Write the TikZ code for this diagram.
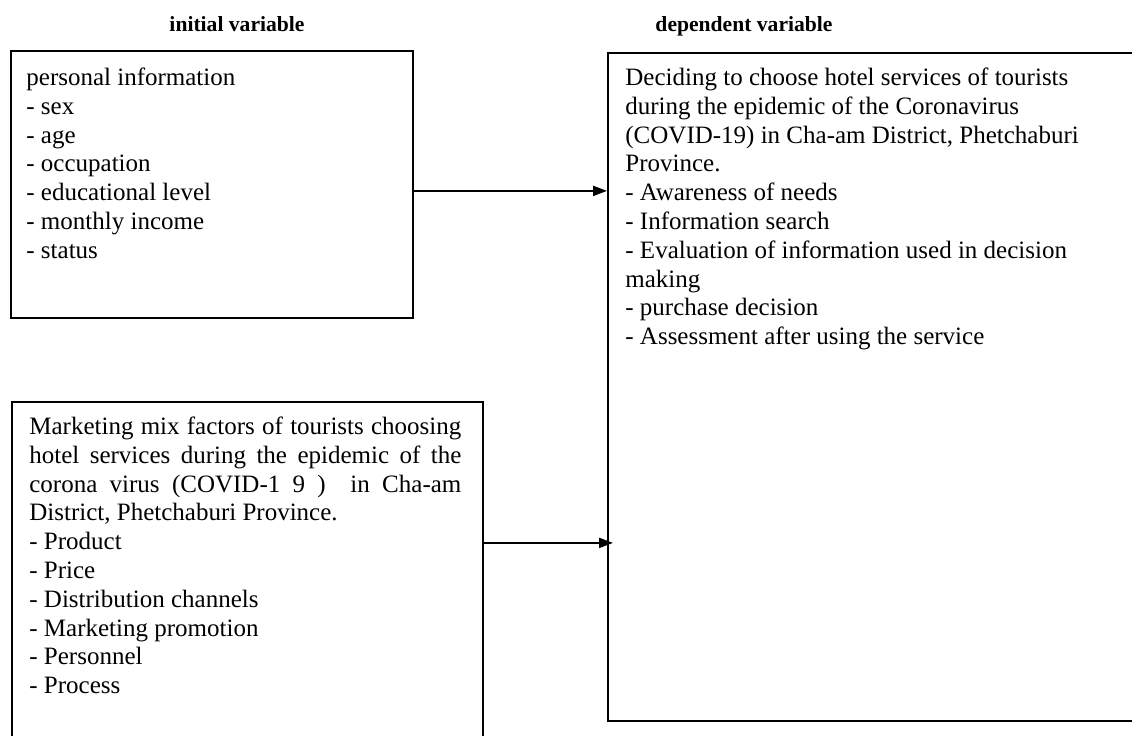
\documentclass[tikz,border=0pt]{standalone}
\usepackage{fontspec}
\setmainfont{Liberation Serif}
\usepackage{tikz}
\usetikzlibrary{arrows.meta, positioning}
\newcommand{\firstline}{\rule{0pt}{10pt}}

\begin{document}
\begin{tikzpicture}[x=0.5pt, y=-0.5pt,
        box/.style={rectangle, draw, line width=0.9pt, inner sep=0pt, anchor=north west},
        txt/.style={inner sep=0pt, anchor=north west, align=left, font=\fontsize{12.5}{14.4}\selectfont},
        head/.style={anchor=base, font=\fontsize{10.8}{13}\selectfont\bfseries},
        arrow/.style={-{Triangle[length=7pt, width=5pt]}, line width=1pt}
    ]
        \useasboundingbox (0,0) rectangle (1132,735);
        \clip (0,0) rectangle (1132,735);
        % column headings
        \node[head] (initial) at (237,31) {initial variable};
        \node[head] (dependent) at (744,31) {dependent variable};
        % boxes
        \node[box, minimum width=201pt, minimum height=133.5pt] (personal) at (10,50) {};
        \node[box, minimum width=235.5pt, minimum height=180pt] (marketing) at (11,401) {};
        \node[box, minimum width=275pt, minimum height=334pt] (decision) at (607,52) {};
        % box texts
        \node[txt] (personaltxt) at (26,65) {\firstline personal information\\
            - sex\\ - age\\ - occupation\\ - educational level\\ - monthly income\\ - status};
        \node[txt, align=justify, text width=216pt] (marketingtxt) at (29,414) {\firstline Marketing mix factors of tourists choosing\linebreak
            hotel services during the epidemic of the\linebreak
            corona virus (COVID-1 9 )\ \ in Cha-am\linebreak
            District, Phetchaburi Province.\\
            - Product\\ - Price\\ - Distribution channels\\ - Marketing promotion\\ - Personnel\\ - Process};
        \node[txt] (decisiontxt) at (625,65) {\firstline Deciding to choose hotel services of tourists\\
            during the epidemic of the Coronavirus\\
            (COVID-19) in Cha-am District, Phetchaburi\\
            Province.\\
            - Awareness of needs\\ - Information search\\
            - Evaluation of information used in decision\\ making\\
            - purchase decision\\ - Assessment after using the service};
        % arrows
        \draw[arrow] ([yshift=-3.25pt]personal.east) -- ([yshift=-3.25pt]personal.east -| decision.west);
        \draw[arrow, shorten >=-3pt] ([yshift=19.5pt]marketing.east) -- ([yshift=19.5pt]marketing.east -| decision.west);
    \end{tikzpicture}
\end{document}
